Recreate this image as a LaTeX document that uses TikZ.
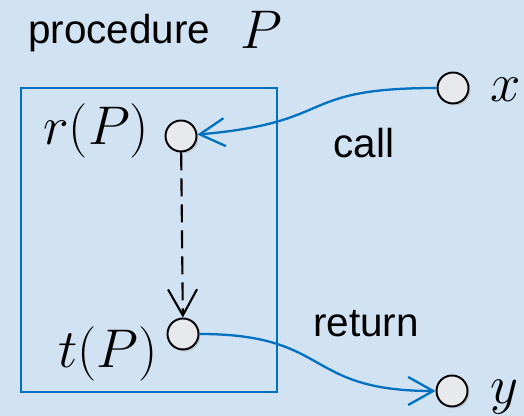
\RequirePackage{fix-cm}
\documentclass[tikz,border=0pt]{standalone}
\usepackage{fontspec}
\usepackage{xcolor}
\usepackage{tikz}
\usetikzlibrary{arrows.meta,shadows}
\newfontfamily\arialfont{Liberation Sans}
\definecolor{bgblue}{RGB}{209,226,242}
\definecolor{lineblue}{RGB}{0,112,192}
\definecolor{dotgray}{RGB}{232,233,236}

\begin{document}
\begin{tikzpicture}[
  dot/.style={circle,draw=black,line width=1.1pt,fill=dotgray,minimum size=0.62cm,inner sep=0pt,
    drop shadow={shadow xshift=0.04cm,shadow yshift=-0.04cm,opacity=0.25,fill=gray}},
  words/.style={anchor=base west,inner sep=0pt,font=\arialfont\fontsize{23}{27}\selectfont},
  maths/.style={anchor=base west,inner sep=0pt,font=\fontsize{31}{36}\selectfont},
  flow/.style={draw=lineblue,line width=1.3pt,-{Straight Barb[length=5mm,width=5.6mm]}},
  jump/.style={draw=black,line width=1.2pt,dash pattern=on 0.36cm off 0.16cm,
    -{Straight Barb[length=5.2mm,width=5.8mm]}}
]
\fill[bgblue] (0,0) rectangle (10.48,8.32);
\useasboundingbox (0,0) rectangle (10.48,8.32);

% procedure box
\draw[lineblue,line width=1.2pt] (0.42,0.48) rectangle (5.54,6.56);
\node[words] (title) at (0.56,7.44) {procedure};
\node[maths] (pname) at (4.8,7.34) {$P$};

% entry / exit points
\node[dot] (r) at (3.62,5.60) {};
\node[dot] (t) at (3.66,1.64) {};
\node[dot] (x) at (9.06,6.56) {};
\node[dot] (y) at (9.04,0.50) {};

\node[maths] (rlab) at (0.86,5.42) {$r(P)$};
\node[maths] (tlab) at (1.16,0.96) {$t(P)$};
\node[maths] (xlab) at (9.80,6.28) {$x$};
\node[maths] (ylab) at (9.80,0.24) {$y$};

\node[words] (calllab) at (6.66,5.16) {call};
\node[words] (retlab) at (6.26,1.58) {return};

% connectors
\draw[jump] (r) -- (t);
\draw[flow] (x) to[out=180,in=5,looseness=1.5] (r);
\draw[flow] (t) to[out=0,in=180,looseness=1.4] (y);
\end{tikzpicture}
\end{document}
